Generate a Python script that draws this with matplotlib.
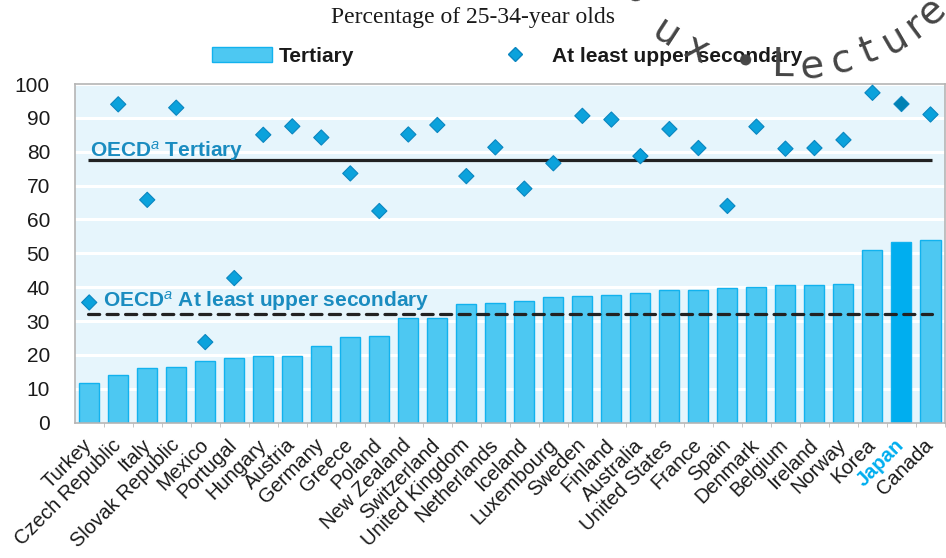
import numpy as np
import matplotlib
matplotlib.use("Agg")
import matplotlib.pyplot as plt
from matplotlib.patches import Patch
from matplotlib.lines import Line2D

plt.rcParams["font.family"] = ["Liberation Sans", "DejaVu Sans"]
plt.rcParams["mathtext.fontset"] = "custom"
plt.rcParams["mathtext.rm"] = "Liberation Sans"
plt.rcParams["mathtext.it"] = "Liberation Sans:italic"
plt.rcParams["mathtext.bf"] = "Liberation Sans:bold"

countries = ["Turkey", "Czech Republic", "Italy", "Slovak Republic", "Mexico", "Portugal",
             "Hungary", "Austria", "Germany", "Greece", "Poland", "New Zealand", "Switzerland",
             "United Kingdom", "Netherlands", "Iceland", "Luxembourg", "Sweden", "Finland",
             "Australia", "United States", "France", "Spain", "Denmark", "Belgium", "Ireland",
             "Norway", "Korea", "Japan", "Canada"]
tertiary = [11.8, 14.2, 16.1, 16.4, 18.1, 19.1, 19.6, 19.6, 22.6, 25.4, 25.5, 30.8, 31.0,
            35.0, 35.4, 35.8, 37.0, 37.4, 37.6, 38.2, 39.3, 39.3, 39.7, 40.0, 40.6, 40.7,
            40.9, 51.1, 53.3, 53.9]
upper_sec = [35.5, 94.0, 65.8, 93.0, 23.8, 42.7, 85.0, 87.5, 84.2, 73.6, 62.5, 85.1, 87.9,
             72.8, 81.3, 69.1, 76.6, 90.6, 89.5, 78.7, 86.7, 81.1, 64.0, 87.4, 80.9, 81.1,
             83.5, 97.4, 94.1, 91.0]
oecd_tertiary = 77.5
oecd_upper = 32.1
highlight = "Japan"

bar_c = "#4DC8F2"
bar_edge = "#12B2EE"
hi_c = "#00AEEF"
dia_c = "#0BA2DC"
dia_edge = "#0A86C0"
lab_c = "#1A8CC0"

fig = plt.figure(figsize=(9.46, 5.58), dpi=100)
ax = fig.add_axes([75 / 946, 1 - 422.7 / 558, 870 / 946, 338.7 / 558])
ax.set_facecolor("#E6F5FC")

x = np.arange(len(countries))
colors = [hi_c if c == highlight else bar_c for c in countries]
ax.bar(x, tertiary, width=0.69, color=colors, edgecolor=bar_edge, linewidth=1, zorder=2)

dcol = ["#0082B4" if c == highlight else dia_c for c in countries]
ax.scatter(x, upper_sec, marker="D", s=60, c=dcol, edgecolors=dia_edge, linewidths=0.8, zorder=4)

ax.plot([-0.05, len(countries) - 0.95], [oecd_tertiary] * 2, color="#222222", lw=2.3, zorder=3,
        solid_capstyle="butt")
ax.plot([-0.05, len(countries) - 0.95], [oecd_upper] * 2, color="#222222", lw=2.3, zorder=3,
        linestyle=(0, (3.5, 2.3)), dash_capstyle="round")

ax.text(0.03, 78.6, r"$\mathbf{OECD}^{\mathit{a}}$ Tertiary", color=lab_c, fontsize=15,
        fontweight="bold", va="baseline", ha="left", zorder=5)
ax.text(0.48, 34.3, r"$\mathbf{OECD}^{\mathit{a}}$ At least upper secondary", color=lab_c,
        fontsize=15, fontweight="bold", va="baseline", ha="left", zorder=5)

ax.set_xlim(-0.49, len(countries) - 0.52)
ax.set_ylim(0, 100)
ax.set_yticks(range(0, 101, 10))
ax.yaxis.grid(True, color="white", lw=2.2)
ax.set_axisbelow(True)
ax.tick_params(axis="y", length=0, pad=18, labelsize=15, labelcolor="#1a1a1a")
ax.set_xticks(x)
ax.set_xticklabels(countries, rotation=45, ha="right", va="center", rotation_mode="anchor",
                   fontsize=14.5, color="#1a1a1a")
ax.set_xticks(x + 0.5, minor=True)
ax.tick_params(axis="x", which="major", length=0, pad=14)
ax.tick_params(axis="x", which="minor", length=3, color="#BBBBBB")
for lab in ax.get_xticklabels():
    if lab.get_text() == highlight:
        lab.set_color(hi_c)
        lab.set_fontweight("bold")
for sp in ax.spines.values():
    sp.set_color("#B5B5B5")
    sp.set_linewidth(1.2)

fig.text(0.5, 1 - 17 / 558, "Percentage of 25-34-year olds", ha="center", va="center",
         fontsize=17, family="Liberation Serif", color="#1a1a1a")

handles = [Patch(facecolor=bar_c, edgecolor=bar_edge, label="Tertiary"),
           Line2D([0], [0], marker="D", color="none", markerfacecolor=dia_c,
                  markeredgecolor=dia_edge, markersize=7, label="At least upper secondary")]
leg = fig.legend(handles=handles, loc="center", bbox_to_anchor=(507 / 946, 1 - 56 / 558),
                 ncol=2, frameon=False, handlelength=2.9, handleheight=0.7, handletextpad=0.3,
                 columnspacing=6.3, prop={"weight": "bold", "size": 15})
for t in leg.get_texts():
    t.set_color("#1a1a1a")

# curved watermark (char, angle on arc, radius)
cx, cy = 785, -150
wm = [("o", -46.5, 206), ("u", -33, 218), ("x", -23.8, 218), ("\u2022", -11, 218),
      ("L", -0.8, 215), ("e", 7.2, 219), ("c", 15.1, 219), ("t", 22.5, 218), ("u", 30.1, 218),
      ("r", 36.6, 218), ("e", 42.4, 218)]
for ch, a, r in wm:
    px = cx + r * np.sin(np.radians(a))
    py = cy + r * np.cos(np.radians(a))
    fig.text(px / 946, 1 - py / 558, ch, fontsize=28, family=["DejaVu Sans", "Liberation Sans"],
             color="#454545", rotation=a, ha="center", va="center",
             rotation_mode="anchor", zorder=10)

fig.savefig("out.png", dpi=100)
